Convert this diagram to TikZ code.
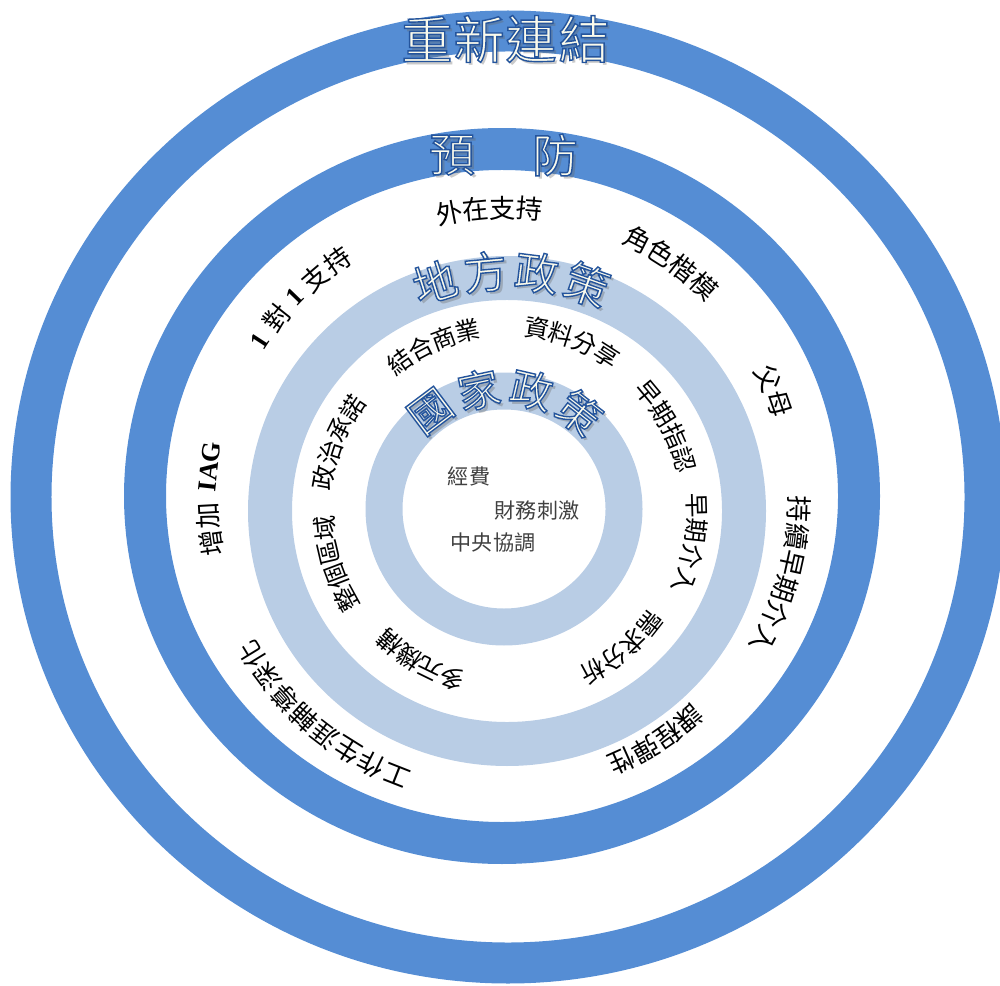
\documentclass[tikz,border=0pt]{standalone}
\usepackage{fontspec}
\newfontfamily\cjk{Noto Sans CJK TC}
\newfontfamily\tms{Liberation Serif}
\usepackage{tikz}
\definecolor{ringblue}{RGB}{85,141,212}
\definecolor{ringpale}{RGB}{185,205,229}
\definecolor{titlefill}{RGB}{250,250,236}
\tikzset{
  lbl/.style={font=\cjk\fontsize{15}{15}\selectfont, inner sep=0pt},
  lblin/.style={font=\cjk\fontsize{14}{14}\selectfont, inner sep=0pt},
  core/.style={font=\cjk\fontsize{12}{12}\selectfont, text=black!75, inner sep=0pt},
  ttl/.style={font=\cjk\fontsize{#1}{#1}\selectfont, inner sep=0pt}
}
% outlined glyphs: fill plus blue stroke
\newcommand\edgeon{\special{pdf:literal direct 2 Tr 0.8 w 0.141 0.329 0.612 RG}}
\newcommand\edgeoff{\special{pdf:literal direct 0 Tr}}
% one title glyph: soft shadow, then outlined glyph
\newcommand\ttlchar[5]{%
  \node[ttl=#4, text=black!60, opacity=0.35, shift={(1.8pt,-1.8pt)}, rotate=#3] at (#2) {#5};
  \node[ttl=#4, text=titlefill, rotate=#3] (#1) at (#2) {\edgeon#5\edgeoff};
}
% glyphs set clockwise along an arc
\newcommand\arctext[7]{%
  \foreach \ch [count=\i] in {#6}{
    \pgfmathsetmacro\ang{#4-(\i-1)*#5}
    \node[#1, rotate=\ang-90] (#7-\i) at (\ang:#2 and #3) {\ch};
  }}

\begin{document}
\begin{tikzpicture}[x=0.02cm,y=0.02cm]
\useasboundingbox (0,0) rectangle (1000,985);

\draw[ringblue, line width=0.82cm] (508,488) ellipse (477 and 466);
\draw[ringblue, line width=0.84cm] (502,489) ellipse (357 and 347);
\draw[ringpale, line width=0.88cm] (507,474) ellipse (237 and 233);
\draw[ringpale, line width=0.74cm] (504,476) ellipse (120 and 118);

% titles
\ttlchar{re1}{427,946}{0}{29}{重}
\ttlchar{re2}{479,946}{0}{29}{新}
\ttlchar{re3}{531,946}{0}{29}{連}
\ttlchar{re4}{584,946}{0}{29}{結}
\ttlchar{pr1}{452,830}{0}{26}{預}
\ttlchar{pr2}{555,830}{0}{26}{防}
\begin{scope}[shift={(507,474)}]
\ttlchar{lo1}{107.5:240}{17.5}{25}{地}
\ttlchar{lo2}{95.2:240}{5.2}{25}{方}
\ttlchar{lo3}{82.9:240}{-7.1}{25}{政}
\ttlchar{lo4}{70.6:240}{-19.4}{25}{策}
\end{scope}
\begin{scope}[shift={(504,476)}]
\ttlchar{na1}{127:122}{37}{24}{國}
\ttlchar{na2}{102:122}{12}{24}{家}
\ttlchar{na3}{77:122}{-13}{24}{政}
\ttlchar{na4}{52:122}{-38}{24}{策}
\end{scope}

% prevention ring labels
\begin{scope}[shift={(505,485)}]
\arctext{lbl}{292}{292}{101}{5.3}{外,在,支,持}{ext}
\arctext{lbl}{292}{292}{63}{5.3}{角,色,楷,模}{role}
\arctext{lbl}{290}{290}{24.7}{5.3}{父,母}{par}
\arctext{lbl}{294}{294}{-1.8}{5.3}{持,續,早,期,介,入}{cont}
\arctext{lbl}{286}{286}{-50}{5.3}{課,程,彈,性}{cur}
\arctext{lbl}{296}{296}{-111.5}{5.3}{工,作,生,涯,輔,導,深,化}{car}
\node[lbl, rotate=57] (one-a) at (147:292) {\tms\bfseries 1};
\node[lbl, rotate=51.5] (one-b) at (141.5:292) {對};
\node[lbl, rotate=46] (one-c) at (136:292) {\tms\bfseries 1};
\node[lbl, rotate=40.5] (one-d) at (130.5:292) {支};
\node[lbl, rotate=35] (one-e) at (125:292) {持};
\node[lbl, rotate=98.4] (iag-a) at (188.4:297) {增};
\node[lbl, rotate=93.1] (iag-b) at (183.1:297) {加};
\node[lbl, rotate=83.5] (iag-c) at (173.5:297) {\tms\bfseries IAG};
\end{scope}

% local policy ring labels
\begin{scope}[shift={(507,474)}]
\arctext{lblin}{184}{184}{125.7}{7.8}{結,合,商,業}{biz}
\arctext{lblin}{185}{185}{80.7}{7.8}{資,料,分,享}{data}
\arctext{lblin}{184}{184}{39.7}{7.8}{早,期,指,認}{ident}
\arctext{lblin}{190}{190}{1.7}{7.8}{早,期,介,入}{early}
\arctext{lblin}{182}{182}{-38.3}{7.8}{需,求,分,析}{need}
\arctext{lblin}{176}{176}{-108.3}{7.8}{多,元,機,構}{multi}
\arctext{lblin}{183}{183}{-151.3}{7.8}{整,個,區,域}{area}
\arctext{lblin}{186}{186}{169.7}{7.8}{政,治,承,諾}{pol}
\end{scope}

% core
\node[core] (fund) at (469,509) {經費};
\node[core] (fin) at (537,475) {財務刺激};
\node[core] (coord) at (493,443) {中央協調};
\end{tikzpicture}
\end{document}
